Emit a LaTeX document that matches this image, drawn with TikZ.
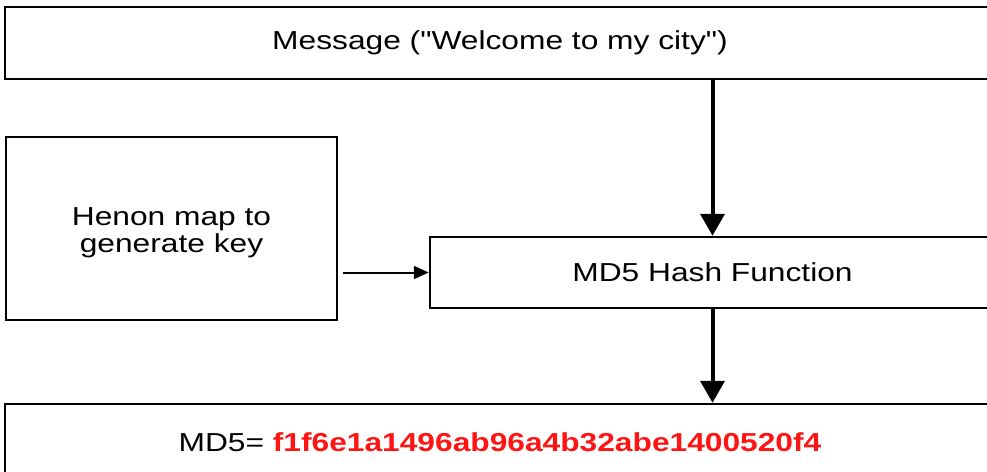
\documentclass[tikz,border=0pt]{standalone}
\usepackage{fontspec}
\setmainfont{Liberation Sans}[FakeStretch=1.22, Ligatures=TeXOff]
\usetikzlibrary{arrows.meta}
\tikzset{
  txt/.style={inner sep=0pt, align=center, font=\fontsize{26}{27.5}\selectfont},
  box/.style={txt, draw=black, line width=2.5pt, rectangle},
  bigarrow/.style={line width=4pt, -{Triangle[width=24pt,length=22pt]}},
  smallarrow/.style={line width=2pt, -{Triangle[width=13pt,length=15pt]}},
}
\begin{document}
\begin{tikzpicture}[x=1pt,y=-1pt]
\useasboundingbox (0,0) rectangle (987,471);
\clip (0,0) rectangle (987,471);
\node[box, minimum width=990pt, minimum height=72pt] (msg) at (500,43) {Message ("Welcome to my city")};
\node[box, minimum width=331pt, minimum height=183pt] (henon) at (171.5,228.5) {};
\node[txt] (henontxt) at (171.5,233) {Henon map to\\generate key};
\node[box, minimum width=565pt, minimum height=71pt] (hash) at (712.5,272.5) {MD5 Hash Function};
\node[box, minimum width=990pt, minimum height=76pt] (res) at (500,442) {MD5= \textcolor[RGB]{255,20,20}{\bfseries f1f6e1a1496ab96a4b32abe1400520f4}};
\draw[bigarrow] (msg.south -| hash.center) -- (hash.north);
\draw[bigarrow] (hash.south) -- (res.north -| hash.center);
\draw[smallarrow, shorten <=5pt] (henon.east |- hash.west) -- (hash.west);
\end{tikzpicture}
\end{document}
